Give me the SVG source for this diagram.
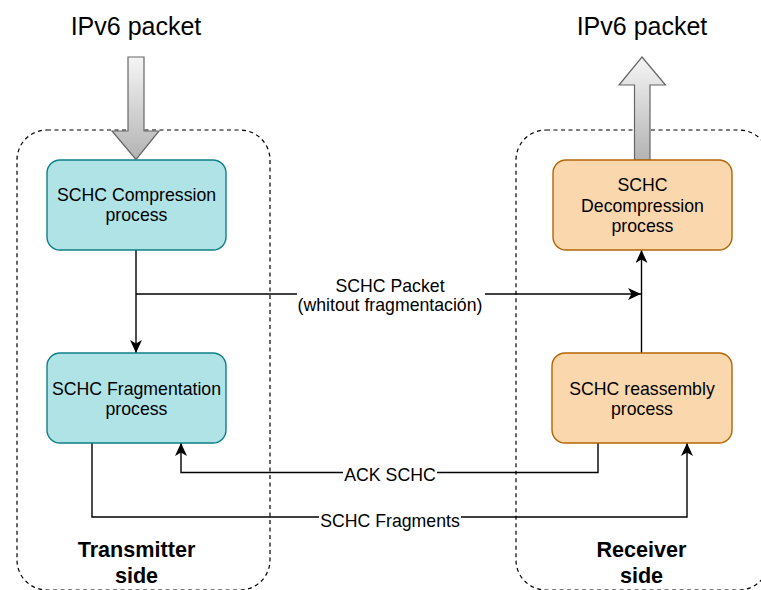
<svg xmlns="http://www.w3.org/2000/svg" width="761" height="590" viewBox="0 0 761 590">
<style>
text{font-family:"Liberation Sans",Arial,sans-serif;fill:#000}
.t{font-size:17.7px;text-anchor:middle}
.big{font-size:25px;text-anchor:middle}
.side{font-size:21.6px;font-weight:bold;text-anchor:middle}
.box{stroke-width:1.4}
.tx{fill:#b0e3e6;stroke:#0e8088}
.rx{fill:#fad7ac;stroke:#b46504}
.cont{fill:none;stroke:#000;stroke-width:1.2;stroke-dasharray:4 3.5}
.c{fill:none;stroke:#000;stroke-width:1.4}
.bg{fill:#fff}
.fat{fill:url(#g);stroke:#666;stroke-width:1.2}
</style>
<defs>
<linearGradient id="g" x1="0" y1="0" x2="0" y2="1">
<stop offset="0" stop-color="#f5f5f5"/>
<stop offset="1" stop-color="#b3b3b3"/>
</linearGradient>
<marker id="a" viewBox="0 0 13 12" refX="13" refY="6" markerWidth="13" markerHeight="12" markerUnits="userSpaceOnUse" orient="auto">
<path d="M0,0 L13,6 L0,12 L3.5,6 Z" fill="#000"/>
</marker>
</defs>
<g id="transmitter-side">
<rect class="cont" x="17" y="130" width="253" height="460" rx="30"/>
<text class="side" x="136.5" y="557">Transmitter</text>
<text class="side" x="136.5" y="583">side</text>
</g>
<g id="receiver-side">
<rect class="cont" x="516" y="130" width="253" height="460" rx="30"/>
<text class="side" x="641.5" y="557">Receiver</text>
<text class="side" x="641.5" y="583">side</text>
</g>
<g id="ipv6-in">
<text class="big" x="136" y="35">IPv6 packet</text>
<path class="fat" d="M128,57 L144,57 L144,131 L159,131 L136,159.5 L112,131 L128,131 Z"/>
</g>
<g id="ipv6-out">
<text class="big" x="642" y="35">IPv6 packet</text>
<path class="fat" d="M642,57 L665.5,85 L650,85 L650,160 L634.5,160 L634.5,85 L619,85 Z"/>
</g>
<g id="connectors">
<path class="c" d="M136,250 L136,353" marker-end="url(#a)"/>
<path class="c" d="M136,294 L641,294" marker-end="url(#a)"/>
<path class="c" d="M641.5,353 L641.5,250" marker-end="url(#a)"/>
<path class="c" d="M598,443 L598,472.5 L181,472.5 L181,443" marker-end="url(#a)"/>
<path class="c" d="M92,443 L92,517 L687,517 L687,443" marker-end="url(#a)"/>
<rect class="bg" x="297" y="274" width="188" height="42"/>
<text class="t" x="390" y="291.7">SCHC Packet</text>
<text class="t" x="390" y="311">(whitout fragmentación)</text>
<rect class="bg" x="343" y="464" width="94" height="20"/>
<text class="t" x="390" y="481">ACK SCHC</text>
<rect class="bg" x="319" y="508" width="142" height="22"/>
<text class="t" x="390" y="526.7">SCHC Fragments</text>
</g>
<g id="compression">
<rect class="box tx" x="47" y="160" width="179" height="90" rx="13"/>
<text class="t" x="136.5" y="201">SCHC Compression</text>
<text class="t" x="136.5" y="221">process</text>
</g>
<g id="fragmentation">
<rect class="box tx" x="47" y="353" width="179" height="90" rx="13"/>
<text class="t" x="136.5" y="395">SCHC Fragmentation</text>
<text class="t" x="136.5" y="415">process</text>
</g>
<g id="decompression">
<rect class="box rx" x="553" y="160" width="179" height="90" rx="13"/>
<text class="t" x="642.5" y="190.7">SCHC</text>
<text class="t" x="642.5" y="211.5">Decompression</text>
<text class="t" x="642.5" y="232">process</text>
</g>
<g id="reassembly">
<rect class="box rx" x="552" y="353" width="180" height="90" rx="13"/>
<text class="t" x="642" y="395">SCHC reassembly</text>
<text class="t" x="642" y="415">process</text>
</g>
</svg>
